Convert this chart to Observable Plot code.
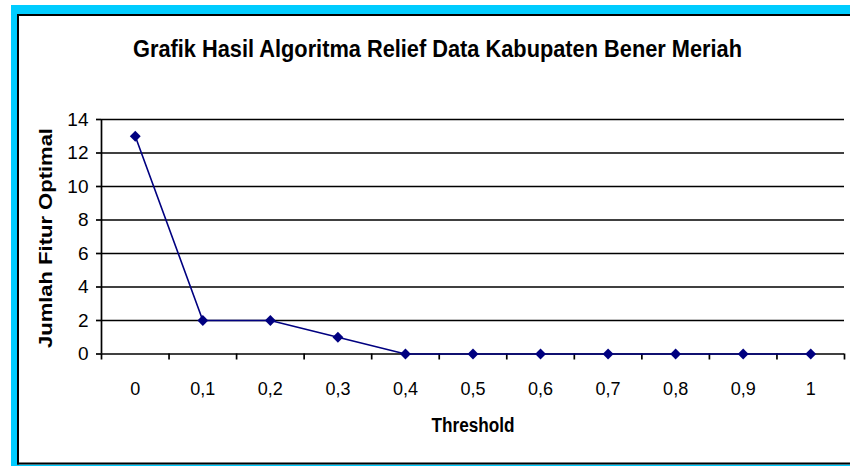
<!DOCTYPE html>
<html>
<head>
<meta charset="utf-8">
<script src="https://cdn.jsdelivr.net/npm/d3@7"></script>
<script src="https://cdn.jsdelivr.net/npm/@observablehq/plot@0.6"></script>
<style>
  html, body { margin: 0; padding: 0; background: white; overflow: hidden; }
  #chart svg { display: block; }
</style>
</head>
<body>
<div id="chart"></div>
<script>
// Data
const thresholds = [0, 0.1, 0.2, 0.3, 0.4, 0.5, 0.6, 0.7, 0.8, 0.9, 1];
const tickLabels = ["0", "0,1", "0,2", "0,3", "0,4", "0,5", "0,6", "0,7", "0,8", "0,9", "1"];
const jumlahFitur = [13, 2, 2, 1, 0, 0, 0, 0, 0, 0, 0];
const yTicks = [0, 2, 4, 6, 8, 10, 12, 14];
const titleText = "Grafik Hasil Algoritma Relief Data Kabupaten Bener Meriah";
const xLabel = "Threshold";
const yLabel = "Jumlah Fitur Optimal";

const data = thresholds.map((t, i) => ({t, v: jumlahFitur[i]}));
const step = thresholds[1] - thresholds[0];
const xMin = thresholds[0] - step / 2;
const xMax = thresholds[thresholds.length - 1] + step / 2;
const boundaries = [xMin, ...thresholds.map(t => t + step / 2)];

const font = "'Liberation Sans', Arial, sans-serif";
const navy = "#000080";

const chart = Plot.plot({
  width: 850,
  height: 466,
  marginLeft: 101,
  marginRight: 6,
  marginTop: 119,
  marginBottom: 112.5,
  style: {fontFamily: font, background: "white", color: "black"},
  x: {domain: [xMin, xMax]},
  y: {domain: [yTicks[0], yTicks[yTicks.length - 1]]},
  marks: [
    Plot.ruleY(yTicks, {stroke: "black", strokeWidth: 1.7}),
    Plot.ruleX([xMin], {y1: yTicks[0], y2: yTicks[yTicks.length - 1], stroke: "black", strokeWidth: 1.7}),
    Plot.axisX({ticks: boundaries, tickSize: 6, tickFormat: () => "", stroke: "black", strokeWidth: 1.7, strokeOpacity: 1, label: null}),
    Plot.axisX({ticks: thresholds, tickSize: 0, tickPadding: 28.5, fontSize: 18,
      tickFormat: d => tickLabels[thresholds.indexOf(d)], label: null, fill: "black"}),
    Plot.axisY({ticks: yTicks, tickSize: 5, tickPadding: 8, fontSize: 19, label: null,
      stroke: "black", strokeWidth: 1.7, strokeOpacity: 1, fill: "black"}),
    Plot.line(data, {x: "t", y: "v", stroke: navy, strokeWidth: 1.6}),
    Plot.dot(data, {x: "t", y: "v", symbol: "diamond2", fill: navy, stroke: "none", r: 4.9})
  ]
});

document.getElementById("chart").appendChild(chart);

const svg = d3.select(chart);
// Frame: cyan outer, black inner
const cyan = "#00CCFF";
const frame = svg.append("g");
frame.append("rect").attr("x", 11).attr("y", 5).attr("width", 839).attr("height", 9).attr("fill", cyan);
frame.append("rect").attr("x", 11).attr("y", 5).attr("width", 6).attr("height", 461).attr("fill", cyan);
frame.append("rect").attr("x", 11).attr("y", 464.5).attr("width", 839).attr("height", 2).attr("fill", cyan);
frame.append("rect").attr("x", 17).attr("y", 14).attr("width", 833).attr("height", 2).attr("fill", "black");
frame.append("rect").attr("x", 17).attr("y", 14).attr("width", 2).attr("height", 450.5).attr("fill", "black");
frame.append("rect").attr("x", 17).attr("y", 462.5).attr("width", 833).attr("height", 2).attr("fill", "black");

// Title
svg.append("text")
  .attr("x", 437.5).attr("y", 56.5)
  .attr("text-anchor", "middle")
  .attr("font-family", font).attr("font-weight", "bold").attr("font-size", 24)
  .attr("textLength", 609).attr("lengthAdjust", "spacingAndGlyphs")
  .attr("fill", "black")
  .text(titleText);

// X label
svg.append("text")
  .attr("x", 473).attr("y", 432)
  .attr("text-anchor", "middle")
  .attr("font-family", font).attr("font-weight", "bold").attr("font-size", 20)
  .attr("textLength", 83).attr("lengthAdjust", "spacingAndGlyphs")
  .attr("fill", "black")
  .text(xLabel);

// Y label
svg.append("text")
  .attr("transform", "translate(52,238) rotate(-90)")
  .attr("text-anchor", "middle")
  .attr("font-family", font).attr("font-weight", "bold").attr("font-size", 17.5)
  .attr("textLength", 220).attr("lengthAdjust", "spacingAndGlyphs")
  .attr("fill", "black")
  .text(yLabel);
</script>
</body>
</html>
